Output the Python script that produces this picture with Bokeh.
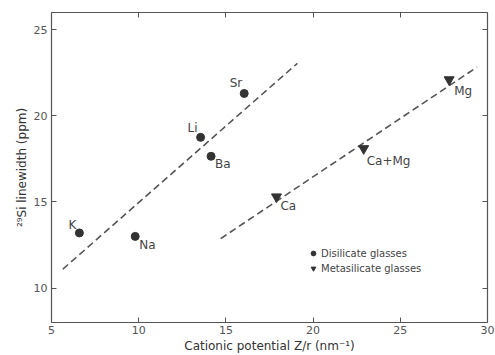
from bokeh.plotting import figure
from bokeh.models import LinearAxis, Range1d, FixedTicker, Legend, LegendItem
from bokeh.embed import file_html
from bokeh.resources import INLINE
from bokeh.core.properties import value

# ---- data ----
di_names = ["K", "Na", "Li", "Ba", "Sr"]
di_x = [6.6, 9.8, 13.55, 14.15, 16.05]
di_y = [13.2, 13.0, 18.75, 17.65, 21.3]

meta_names = ["Ca", "Ca+Mg", "Mg"]
meta_x = [17.9, 22.9, 27.8]
meta_y = [15.3, 18.1, 22.1]

fit_di_x = [5.65, 19.1]
fit_di_y = [11.1, 23.05]
fit_meta_x = [14.7, 29.4]
fit_meta_y = [12.87, 22.83]

x_ticks = [5, 10, 15, 20, 25, 30]
y_ticks = [10, 15, 20, 25]

# label placement (style only)
di_off = {"K": (-3, -8, "right"), "Na": (4, 9, "left"), "Li": (-3, -9, "right"),
          "Ba": (4, 8, "left"), "Sr": (-2, -10, "right")}
meta_off = {"Ca": (4, 9, "left"), "Ca+Mg": (3, 12, "left"), "Mg": (5, 11, "left")}

INK = "#333333"
AX = "#555555"
FONT = "DejaVu Sans"

p = figure(width=495, height=355, output_backend="svg", toolbar_location=None,
           x_range=Range1d(5, 30), y_range=Range1d(8, 26),
           min_border_left=51, min_border_right=8, min_border_top=12, min_border_bottom=31,
           background_fill_color="white", border_fill_color="white")
p.grid.visible = False
p.outline_line_color = None

for ax in (p.xaxis[0], p.yaxis[0]):
    ax.axis_line_color = AX
    ax.axis_line_width = 1.2
    ax.major_tick_line_color = AX
    ax.major_tick_in = 5
    ax.major_tick_out = 0
    ax.minor_tick_line_color = None
    ax.major_label_text_color = "#555555"
    ax.major_label_text_font = FONT
    ax.major_label_text_font_size = "11px"
    ax.axis_label_text_color = "#333333"
    ax.axis_label_text_font = FONT
    ax.axis_label_text_font_size = "12px"
    ax.axis_label_text_font_style = "normal"

p.xaxis[0].ticker = FixedTicker(ticks=x_ticks)
p.yaxis[0].ticker = FixedTicker(ticks=y_ticks)
p.xaxis[0].axis_label = "Cationic potential Z/r (nm\u207b\u00b9)"
p.yaxis[0].axis_label = "\u00b2\u2079Si linewidth (ppm)"
p.xaxis[0].major_label_standoff = 3
p.xaxis[0].axis_label_standoff = 2
p.yaxis[0].major_label_standoff = 4
p.yaxis[0].axis_label_standoff = 2

top = LinearAxis(ticker=FixedTicker(ticks=x_ticks))
right = LinearAxis(ticker=FixedTicker(ticks=y_ticks))
for ax in (top, right):
    ax.axis_line_color = AX
    ax.axis_line_width = 1.2
    ax.major_tick_line_color = AX
    ax.major_tick_in = 5
    ax.major_tick_out = 0
    ax.minor_tick_line_color = None
    ax.major_label_text_color = None
    ax.major_label_text_font_size = "1px"
    ax.major_label_standoff = 0
p.add_layout(top, "above")
p.add_layout(right, "right")

p.line(fit_di_x, fit_di_y, line_color="#555555", line_width=1.6, line_dash="7 4")
p.line(fit_meta_x, fit_meta_y, line_color="#555555", line_width=1.6, line_dash="7 4")

r_di = p.scatter(di_x, di_y, marker="circle", size=8, fill_color=INK, line_color=INK)
r_meta = p.scatter(meta_x, meta_y, marker="inverted_triangle", size=10, fill_color=INK, line_color=INK)

for names, xs, ys, offs in ((di_names, di_x, di_y, di_off), (meta_names, meta_x, meta_y, meta_off)):
    for n, x, y in zip(names, xs, ys):
        dx, dy, al = offs[n]
        p.text([x], [y], text=[n], x_offset=dx, y_offset=dy, text_align=al,
               text_baseline="middle", text_font=value(FONT), text_font_size="12px",
               text_color="#444444")

legend = Legend(items=[LegendItem(label="Disilicate glasses", renderers=[r_di]),
                       LegendItem(label="Metasilicate glasses", renderers=[r_meta])],
                location=(256, 48), padding=0, margin=0, spacing=3,
                glyph_width=12, glyph_height=12, label_height=12, label_standoff=2,
                label_text_font=FONT, label_text_font_size="10px", label_text_color="#444444",
                border_line_color=None, background_fill_alpha=0)
p.add_layout(legend)

open("out.html", "w").write(file_html(p, INLINE))
